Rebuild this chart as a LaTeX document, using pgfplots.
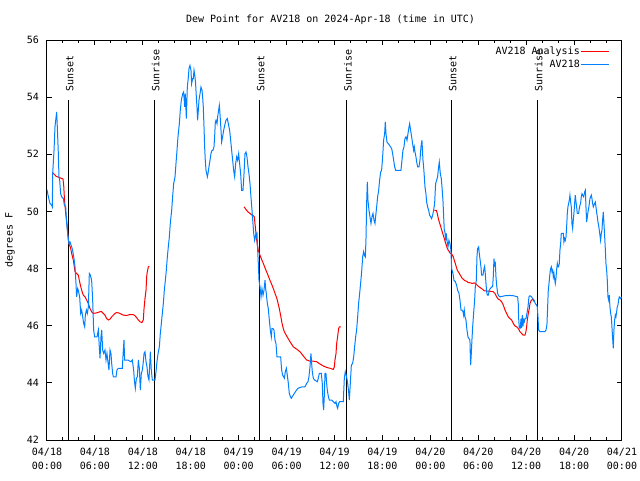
\documentclass[border=0pt]{standalone}
\usepackage{pgfplots}
\pgfplotsset{compat=1.18}
\usepackage{fontspec}
\setmainfont{DejaVu Sans Mono}
\definecolor{avblue}{RGB}{0,128,255}
\definecolor{avred}{RGB}{255,0,0}

\begin{document}
\begin{tikzpicture}[font=\fontsize{10}{12}\selectfont]
\path[use as bounding box] (-47pt,-40pt) rectangle (593pt,440pt);
\begin{axis}[
  at={(0,0)}, anchor=south west,
  scale only axis, width=575pt, height=400pt,
  clip mode=individual,
  xmin=0, xmax=72, ymin=42, ymax=56,
  xtick={0,6,...,72},
  xticklabels={{04/18\\[2pt]00:00},{04/18\\[2pt]06:00},{04/18\\[2pt]12:00},{04/18\\[2pt]18:00},{04/19\\[2pt]00:00},{04/19\\[2pt]06:00},{04/19\\[2pt]12:00},{04/19\\[2pt]18:00},{04/20\\[2pt]00:00},{04/20\\[2pt]06:00},{04/20\\[2pt]12:00},{04/20\\[2pt]18:00},{04/21\\[2pt]00:00}},
  minor x tick num=2,
  ytick={42,44,...,56},
  major tick length=5pt, minor tick length=3pt,
  tick style={black, line width=1pt},
  axis line style={line width=1pt},
  /pgf/number format/assume math mode=true,
  x tick label style={align=center, inner sep=0pt, yshift=-8pt},
  y tick label style={inner sep=0pt, xshift=-8pt},
  title={Dew Point for AV218 on 2024-Apr-18 (time in UTC)},
  title style={at={(0.5,1)}, anchor=base, yshift=11pt, xshift=-4pt, inner sep=0pt},
  ylabel={degrees F},
  ylabel style={at={(axis description cs:0,0.5)}, anchor=center, rotate=0, inner sep=0pt, yshift=37pt},
  legend style={at={(1,1)}, anchor=north east, xshift=-12pt, yshift=-6pt, draw=none, fill=none, inner sep=0pt,
    row sep=1.5pt, nodes={text height=7.5pt, text depth=2pt, inner sep=1pt},
    /tikz/every even column/.append style={column sep=6pt}},
  legend cell align=right,
  legend plot pos=right,
  legend image code/.code={\draw[#1] (0pt,0pt) -- (28pt,0pt);},
  unbounded coords=jump,
]
% sunrise / sunset markers
\addplot[black, line width=1pt, forget plot] coordinates {(2.67,42) (2.67,53.91)};
\addplot[black, line width=1pt, forget plot] coordinates {(13.43,42) (13.43,53.91)};
\addplot[black, line width=1pt, forget plot] coordinates {(26.59,42) (26.59,53.91)};
\addplot[black, line width=1pt, forget plot] coordinates {(37.52,42) (37.52,53.91)};
\addplot[black, line width=1pt, forget plot] coordinates {(50.63,42) (50.63,53.91)};
\addplot[black, line width=1pt, forget plot] coordinates {(61.39,42) (61.39,53.91)};

% AV218 Analysis
\addplot[avred, line width=1pt] coordinates {
(0.67,51.36) (0.92,51.30) (1.13,51.23) (1.34,51.21) (1.63,51.18) (1.84,51.15) (2.00,51.14) (2.09,50.92) (2.17,50.51) (2.25,50.22) (2.34,49.93) (2.42,49.75) (2.50,49.58) (2.59,49.28) (2.67,48.99) (2.80,48.82) (2.92,48.76) (3.09,48.53) (3.30,48.29) (3.51,47.89) (3.71,47.83) (3.92,47.77) (4.13,47.48) (4.34,47.24) (4.55,47.07) (4.76,47.01) (4.97,46.90) (5.18,46.78) (5.38,46.60) (5.59,46.49) (5.80,46.43) (6.22,46.45) (6.64,46.49) (6.84,46.49) (7.05,46.43) (7.26,46.37) (7.47,46.25) (7.68,46.20) (7.89,46.23) (8.10,46.31) (8.31,46.37) (8.51,46.43) (8.72,46.46) (8.93,46.45) (9.14,46.43) (9.56,46.37) (9.97,46.36) (10.39,46.39) (10.81,46.39) (11.02,46.35) (11.23,46.28) (11.44,46.20) (11.64,46.14) (11.89,46.11) (12.06,46.20) (12.15,46.60) (12.27,46.95) (12.40,47.24) (12.48,47.71) (12.56,47.89) (12.69,48.06) (12.81,48.08)
(12.9,nan)
(24.67,50.16) (24.92,50.07) (25.17,49.98) (25.42,49.93) (25.67,49.87) (25.88,49.84) (25.96,49.81) (26.04,49.58) (26.13,49.34) (26.21,49.11) (26.29,48.93) (26.38,48.76) (26.46,48.64) (26.59,48.53) (26.75,48.41) (26.92,48.29) (27.09,48.18) (27.25,48.06) (27.42,47.94) (27.59,47.83) (27.75,47.71) (27.92,47.59) (28.09,47.48) (28.26,47.36) (28.42,47.24) (28.59,47.10) (28.76,46.98) (28.92,46.80) (29.09,46.60) (29.26,46.35) (29.42,46.10) (29.59,45.90) (29.72,45.79) (30.01,45.64) (30.43,45.44) (30.85,45.26) (31.26,45.18) (31.68,45.09) (32.10,44.94) (32.51,44.80) (32.93,44.76) (33.35,44.76) (33.76,44.74) (34.18,44.66) (34.60,44.59) (35.02,44.54) (35.44,44.51) (35.85,44.47) (35.98,44.56) (36.06,44.80) (36.19,45.03) (36.27,45.38) (36.36,45.55) (36.44,45.73) (36.52,45.90) (36.60,45.96) (36.81,45.96)
(36.9,nan)
(48.50,50.04) (48.75,50.04) (48.87,49.93) (49.00,49.75) (49.12,49.63) (49.25,49.52) (49.37,49.40) (49.50,49.28) (49.62,49.17) (49.75,49.05) (49.87,48.93) (50.00,48.82) (50.13,48.70) (50.25,48.64) (50.38,48.59) (50.50,48.53) (50.63,48.53) (50.75,48.47) (50.88,48.41) (51.00,48.29) (51.13,48.18) (51.25,48.06) (51.38,47.94) (51.50,47.89) (51.63,47.83) (51.75,47.77) (51.88,47.71) (52.00,47.65) (52.13,47.63) (52.25,47.59) (52.38,47.57) (52.50,47.56) (52.63,47.54) (52.75,47.51) (53.01,47.50) (53.26,47.48) (53.51,47.50) (53.76,47.45) (54.01,47.38) (54.26,47.33) (54.51,47.28) (54.76,47.22) (55.26,47.21) (55.88,47.19) (56.09,47.13) (56.30,47.01) (56.51,46.93) (56.72,46.90) (56.93,46.84) (57.14,46.72) (57.35,46.55) (57.55,46.43) (57.76,46.31) (57.97,46.25) (58.18,46.20) (58.39,46.08) (58.60,45.99) (58.81,45.96) (59.02,45.90) (59.23,45.79) (59.43,45.73) (59.64,45.67) (59.85,45.67) (59.97,45.79) (60.06,45.96) (60.14,46.20) (60.27,46.43) (60.39,46.60) (60.48,46.78) (60.60,46.87) (60.77,46.92) (60.89,46.90) (61.02,46.84)
};
\addlegendentry{AV218 Analysis}

% AV218 observations
\addplot[avblue, line width=1pt] coordinates {
(0.00,50.76) (0.17,50.51) (0.38,50.28) (0.58,50.22) (0.67,50.16) (0.71,51.32) (0.88,52.14) (1.00,52.96) (1.09,53.19) (1.21,53.48) (1.29,52.96) (1.42,52.02) (1.50,51.21) (1.59,51.09) (1.71,50.62) (1.84,50.51) (2.05,50.45) (2.17,50.22) (2.34,50.16) (2.46,49.58) (2.59,49.23) (2.75,48.88) (2.88,48.93) (3.09,48.76) (3.21,48.64) (3.38,48.35) (3.51,48.06) (3.63,47.48) (3.71,47.01) (3.84,47.30) (3.92,47.24) (4.09,47.01) (4.22,46.43) (4.34,46.55) (4.47,46.31) (4.59,46.08) (4.72,45.96) (4.80,46.37) (4.93,46.55) (5.05,46.43) (5.18,46.66) (5.30,47.83) (5.43,47.77) (5.59,47.59) (5.72,46.90) (5.84,45.85) (5.97,45.61) (6.26,45.61) (6.43,45.85) (6.55,45.26) (6.64,44.86) (6.76,45.61) (6.85,45.85) (6.97,45.15) (7.10,45.03) (7.26,45.15) (7.39,44.80) (7.51,45.03) (7.68,44.62) (7.76,44.45) (7.89,45.15) (8.01,45.03) (8.10,44.68) (8.22,44.33) (8.31,44.21) (8.64,44.21) (8.76,44.45) (8.93,44.51) (9.43,44.51) (9.56,45.15) (9.64,45.50) (9.72,44.80) (10.10,44.80) (10.52,44.74) (10.68,44.80) (10.85,44.45) (10.94,44.10) (11.06,43.81) (11.19,44.16) (11.31,44.21) (11.44,44.80) (11.56,44.51) (11.69,43.75) (11.81,44.33) (11.94,44.45) (12.06,44.74) (12.15,45.03) (12.27,45.09) (12.40,44.74) (12.52,44.56) (12.65,44.21) (12.77,44.10) (12.94,45.09) (13.06,44.45) (13.19,44.10) (13.52,44.10) (13.65,44.39) (13.77,44.74) (13.94,45.09) (14.07,45.26) (14.19,45.73) (14.32,46.08) (14.44,46.43) (14.57,46.78) (14.69,47.24) (14.82,47.59) (14.94,47.94) (15.07,48.41) (15.19,48.76) (15.32,49.11) (15.44,49.58) (15.61,50.04) (15.73,50.51) (15.86,50.97) (16.03,51.21) (16.15,51.67) (16.28,52.14) (16.40,52.61) (16.57,53.07) (16.69,53.54) (16.82,53.89) (16.99,54.12) (17.11,54.18) (17.24,53.66) (17.32,54.12) (17.45,53.25) (17.57,54.35) (17.70,54.70) (17.78,55.00) (17.90,55.11) (18.03,54.94) (18.11,54.47) (18.24,54.65) (18.32,54.65) (18.41,54.94) (18.53,54.70) (18.61,54.47) (18.70,54.00) (18.78,53.66) (18.86,53.19) (18.95,53.54) (19.03,53.89) (19.16,54.12) (19.28,54.35) (19.41,54.24) (19.49,54.00) (19.57,53.66) (19.66,52.96) (19.74,52.26) (19.82,51.79) (19.91,51.44) (20.08,51.21) (20.16,51.32) (20.28,51.56) (20.41,51.79) (20.53,52.02) (20.66,52.14) (20.78,52.14) (20.91,52.26) (20.99,52.61) (21.08,53.13) (21.16,53.19) (21.29,53.07) (21.37,53.31) (21.49,53.54) (21.58,53.71) (21.66,53.42) (21.79,52.84) (21.87,52.43) (21.99,52.61) (22.12,52.84) (22.25,53.01) (22.41,53.19) (22.58,53.25) (22.75,53.01) (22.87,52.84) (23.00,52.49) (23.12,52.14) (23.25,51.79) (23.37,51.44) (23.50,51.21) (23.62,51.67) (23.75,51.91) (23.87,51.79) (24.00,52.02) (24.12,51.67) (24.25,51.32) (24.37,50.74) (24.54,50.74) (24.67,51.32) (24.79,52.02) (24.92,52.08) (25.04,51.91) (25.17,51.56) (25.29,51.32) (25.42,50.97) (25.54,50.51) (25.67,50.04) (25.79,49.58) (25.88,49.23) (26.00,48.99) (26.13,49.17) (26.21,49.11) (26.29,49.28) (26.38,48.64) (26.46,48.18) (26.55,47.59) (26.67,47.36) (26.80,47.01) (26.92,47.30) (27.05,47.07) (27.17,47.24) (27.30,47.59) (27.38,47.30) (27.46,47.13) (27.59,46.78) (27.71,46.60) (27.84,46.20) (27.96,45.85) (28.09,45.61) (28.17,45.90) (28.30,45.90) (28.42,45.85) (28.55,45.50) (28.67,45.38) (28.80,44.91) (29.26,44.91) (29.38,44.45) (29.51,44.27) (29.63,44.21) (29.72,44.16) (29.84,44.39) (29.97,44.51) (30.09,44.27) (30.22,43.98) (30.34,43.63) (30.47,43.52) (30.59,43.46) (30.72,43.52) (30.84,43.57) (30.97,43.63) (31.26,43.75) (31.43,43.81) (31.93,43.86) (32.30,43.86) (32.51,43.98) (32.68,44.04) (32.80,44.21) (32.93,44.56) (33.05,45.03) (33.14,44.68) (33.22,44.39) (33.35,44.16) (33.51,44.10) (33.85,44.04) (33.97,44.16) (34.10,44.33) (34.35,44.33) (34.47,43.98) (34.56,43.28) (34.64,43.05) (34.72,43.52) (34.81,44.33) (34.93,44.33) (35.02,43.98) (35.10,43.75) (35.23,43.52) (35.35,43.40) (35.64,43.40) (35.85,43.34) (36.06,43.28) (36.19,43.34) (36.31,43.17) (36.39,43.11) (36.52,43.28) (36.64,43.34) (37.10,43.34) (37.23,44.16) (37.35,44.39) (37.52,44.21) (37.65,43.98) (37.77,43.69) (37.86,43.40) (37.98,43.98) (38.11,44.62) (38.27,44.68) (38.40,44.91) (38.52,45.26) (38.65,45.61) (38.77,45.85) (38.90,46.31) (39.02,46.78) (39.15,47.13) (39.27,47.48) (39.40,47.89) (39.53,48.41) (39.65,48.59) (39.73,48.47) (39.86,48.41) (39.94,48.99) (40.03,50.33) (40.11,51.03) (40.19,50.39) (40.32,50.04) (40.44,49.81) (40.57,49.58) (40.69,49.81) (40.82,49.93) (40.95,49.69) (41.07,49.58) (41.15,49.81) (41.28,50.16) (41.40,50.51) (41.53,50.74) (41.65,51.09) (41.78,51.38) (41.90,51.44) (42.03,51.91) (42.15,52.49) (42.28,52.72) (42.36,53.13) (42.45,52.72) (42.57,52.43) (42.90,52.31) (43.16,52.20) (43.28,52.02) (43.41,51.79) (43.53,51.56) (43.66,51.44) (44.32,51.44) (44.45,51.79) (44.57,52.14) (44.70,52.26) (44.82,52.55) (44.95,52.61) (45.08,52.49) (45.20,52.72) (45.33,52.96) (45.41,53.07) (45.53,52.84) (45.66,52.61) (45.78,52.37) (45.91,52.14) (45.99,52.26) (46.08,52.08) (46.20,51.91) (46.29,51.73) (46.41,51.56) (46.58,51.56) (46.70,51.79) (46.83,52.26) (46.95,52.49) (47.08,51.79) (47.16,51.56) (47.25,51.21) (47.33,50.86) (47.45,50.62) (47.54,50.33) (47.66,50.16) (47.79,50.04) (47.91,49.87) (48.04,49.81) (48.16,49.75) (48.29,49.87) (48.41,50.04) (48.54,50.28) (48.66,50.97) (48.79,51.09) (48.91,51.21) (49.04,51.56) (49.12,51.73) (49.25,51.32) (49.37,51.15) (49.46,50.86) (49.58,50.39) (49.67,49.81) (49.75,49.34) (49.83,49.28) (49.92,48.99) (50.00,49.23) (50.08,48.99) (50.21,48.76) (50.33,48.99) (50.46,48.88) (50.58,48.64) (50.67,48.00) (50.83,47.83) (50.96,47.59) (51.13,47.54) (51.29,47.42) (51.42,47.24) (51.59,47.13) (51.71,46.90) (51.84,46.55) (51.96,46.55) (52.09,46.49) (52.17,46.37) (52.25,46.55) (52.34,46.31) (52.46,46.20) (52.59,45.85) (52.71,45.61) (52.84,45.55) (52.96,45.50) (53.01,44.91) (53.05,44.62) (53.13,45.03) (53.21,45.50) (53.30,45.96) (53.42,46.43) (53.55,46.90) (53.63,47.36) (53.76,47.59) (53.84,48.41) (53.92,48.70) (54.05,48.76) (54.13,48.53) (54.34,48.06) (54.42,47.77) (54.59,47.77) (54.72,48.00) (54.80,48.08) (54.88,47.83) (54.97,47.48) (55.05,47.19) (55.13,47.07) (55.26,47.07) (55.38,47.24) (55.51,47.30) (55.68,47.36) (55.80,47.36) (55.88,47.71) (55.97,48.35) (56.05,48.12) (56.14,48.18) (56.22,47.71) (56.30,47.42) (56.43,47.13) (56.55,47.05) (56.72,47.01) (57.35,47.05) (57.97,47.06) (58.39,47.05) (58.93,47.01) (59.01,46.78) (59.05,46.31) (59.14,45.92) (59.27,45.92) (59.35,46.25) (59.43,45.92) (59.52,46.37) (59.60,45.98) (59.68,46.20) (59.77,46.14) (59.85,46.25) (59.97,46.25) (60.10,46.43) (60.23,46.66) (60.35,47.01) (60.48,47.05) (60.68,47.01) (60.81,46.95) (60.98,46.90) (61.14,46.78) (61.31,46.72) (61.39,46.66) (61.48,46.31) (61.56,45.85) (61.73,45.79) (62.35,45.79) (62.48,45.85) (62.60,46.02) (62.69,46.66) (62.77,47.24) (62.90,47.59) (62.98,47.83) (63.06,48.00) (63.15,48.06) (63.23,47.89) (63.31,47.94) (63.40,47.71) (63.48,47.83) (63.56,47.65) (63.65,47.48) (63.73,47.65) (63.81,47.94) (63.90,48.18) (63.98,48.06) (64.06,48.06) (64.15,48.18) (64.23,48.64) (64.32,48.88) (64.40,49.23) (64.65,49.23) (64.73,48.93) (64.82,49.05) (64.90,48.99) (64.99,49.11) (65.07,49.46) (65.15,49.93) (65.23,50.16) (65.32,50.28) (65.40,50.39) (65.48,50.57) (65.57,50.33) (65.65,50.16) (65.73,49.58) (65.82,49.40) (65.90,49.69) (65.98,49.93) (66.07,50.28) (66.15,50.57) (66.24,50.33) (66.32,50.16) (66.40,49.93) (66.57,49.93) (66.65,50.10) (66.74,50.22) (66.82,50.28) (66.90,50.51) (66.99,50.62) (67.07,50.57) (67.20,50.51) (67.32,50.68) (67.41,50.74) (67.49,50.16) (67.57,49.63) (67.66,49.81) (67.74,49.98) (67.82,50.10) (67.91,50.28) (67.99,50.45) (68.07,50.51) (68.16,50.57) (68.24,50.45) (68.32,50.28) (68.41,50.16) (68.57,50.28) (68.66,50.33) (68.74,50.16) (68.82,49.98) (68.91,49.81) (68.99,49.63) (69.07,49.52) (69.16,49.34) (69.24,49.17) (69.32,48.99) (69.41,49.23) (69.49,49.34) (69.57,49.69) (69.66,49.98) (69.74,49.58) (69.82,49.17) (69.91,48.70) (69.99,48.18) (70.08,47.94) (70.16,47.59) (70.24,47.01) (70.33,46.90) (70.41,47.07) (70.49,46.66) (70.58,46.43) (70.66,46.31) (70.74,45.96) (70.83,45.55) (70.91,45.21) (70.99,45.85) (71.08,46.20) (71.16,46.37) (71.24,46.31) (71.33,46.49) (71.41,46.66) (71.49,46.72) (71.58,46.90) (71.66,47.01) (71.83,46.95) (71.95,47.01)
};
\addlegendentry{AV218}

\node[rotate=90, anchor=base west, inner sep=0pt] at ([xshift=5pt]axis cs:2.67,54.18) {Sunset};
\node[rotate=90, anchor=base west, inner sep=0pt] at ([xshift=5pt]axis cs:13.43,54.18) {Sunrise};
\node[rotate=90, anchor=base west, inner sep=0pt] at ([xshift=5pt]axis cs:26.59,54.18) {Sunset};
\node[rotate=90, anchor=base west, inner sep=0pt] at ([xshift=5pt]axis cs:37.52,54.18) {Sunrise};
\node[rotate=90, anchor=base west, inner sep=0pt] at ([xshift=5pt]axis cs:50.63,54.18) {Sunset};
\node[rotate=90, anchor=base west, inner sep=0pt] at ([xshift=5pt]axis cs:61.39,54.18) {Sunrise};
\end{axis}
\end{tikzpicture}
\end{document}
